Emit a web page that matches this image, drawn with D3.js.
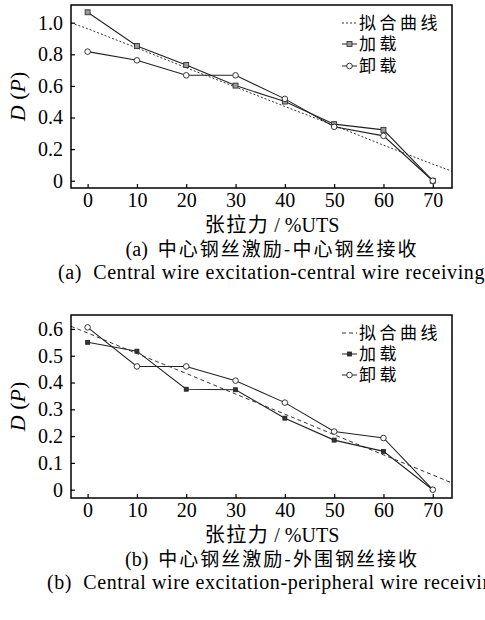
<!DOCTYPE html>
<html>
<head>
<meta charset="utf-8">
<script src="https://cdn.jsdelivr.net/npm/d3@7"></script>
<style>
  body { margin: 0; background: #fff; }
  .tick text { font-family: "Liberation Serif", "Times New Roman", serif; font-size: 20px; fill: #000; }
  .cjk { font-family: "Noto Sans CJK SC", sans-serif; }
  .serif { font-family: "Liberation Serif", "Times New Roman", serif; }
</style>
</head>
<body>
<script>
// shared x categories (tension, %UTS)
const tension = [0, 10, 20, 30, 40, 50, 60, 70];
const xTicks = [0, 10, 20, 30, 40, 50, 60, 70];

// panel (a)
const loadA = [1.066, 0.853, 0.733, 0.602, 0.501, 0.358, 0.322, 0.0];
const unloadA = [0.817, 0.762, 0.667, 0.667, 0.518, 0.341, 0.284, 0.0];
const fitXA = [-3.4, 0, 10, 20, 30, 40, 50, 60, 70, 73.9];
const fitYA = [1.0, 0.962, 0.84, 0.715, 0.593, 0.47, 0.35, 0.225, 0.105, 0.06];
const yTicksA = [0, 0.2, 0.4, 0.6, 0.8, 1.0];

// panel (b)
const loadB = [0.55, 0.517, 0.375, 0.373, 0.267, 0.185, 0.143, 0.0];
const unloadB = [0.606, 0.46, 0.46, 0.407, 0.325, 0.217, 0.193, 0.0];
const fitXB = [-3.4, 0, 10, 20, 30, 40, 50, 60, 70, 73.9];
const fitYB = [0.61, 0.585, 0.508, 0.434, 0.357, 0.282, 0.205, 0.13, 0.055, 0.025];
const yTicksB = [0, 0.1, 0.2, 0.3, 0.4, 0.5, 0.6];

const legendLabels = ["拟合曲线", "加载", "卸载"];
const xLabel = ["张拉力", " / %UTS"];
const captionsCN = ["(a)  中心钢丝激励-中心钢丝接收", "(b)  中心钢丝激励-外围钢丝接收"];
const captionsEN = ["(a)  Central wire excitation-central wire receiving",
                    "(b)  Central wire excitation-peripheral wire receiving"];

const W = 485, H = 620;
const svg = d3.select("body").append("svg").attr("width", W).attr("height", H);

function drawPanel(p) {
    const g = svg.append("g");
    const x = d3.scaleLinear().domain(p.xDomain).range([p.left, p.right]);
    const y = d3.scaleLinear().domain(p.yDomain).range([p.bottom, p.top]);

    g.append("defs").append("clipPath").attr("id", p.id + "-clip")
        .append("rect")
        .attr("x", p.left).attr("y", p.top)
        .attr("width", p.right - p.left).attr("height", p.bottom - p.top);

    // axes with inward ticks
    g.append("g")
        .attr("transform", `translate(0,${p.bottom})`)
        .call(d3.axisBottom(x).tickValues(xTicks).tickSizeInner(-4).tickSizeOuter(0).tickPadding(5))
        .call(a => a.select(".domain").remove())
        .call(a => a.selectAll("line").attr("stroke", "#000").attr("stroke-width", 1.2));

    g.append("g")
        .attr("transform", `translate(${p.left},0)`)
        .call(d3.axisLeft(y).tickValues(p.yTicks).tickSizeInner(-4).tickSizeOuter(0).tickPadding(8)
            .tickFormat(d => d === 0 ? "0" : d3.format(".1f")(d)))
        .call(a => a.select(".domain").remove())
        .call(a => a.selectAll("line").attr("stroke", "#000").attr("stroke-width", 1.2));

    const plot = g.append("g").attr("clip-path", `url(#${p.id}-clip)`);

    const fitLine = d3.line().x(d => x(d[0])).y(d => y(d[1]));
    plot.append("path")
        .datum(p.fitX.map((v, i) => [v, p.fitY[i]]))
        .attr("d", fitLine)
        .attr("fill", "none")
        .attr("stroke", "#333")
        .attr("stroke-width", 1)
        .attr("stroke-dasharray", p.dash);

    const line = d3.line().x((d, i) => x(tension[i])).y(d => y(d));
    plot.append("path").datum(p.load).attr("d", line)
        .attr("fill", "none").attr("stroke", "#222").attr("stroke-width", 1.1);
    plot.append("path").datum(p.unload).attr("d", line)
        .attr("fill", "none").attr("stroke", "#222").attr("stroke-width", 1.1);

    const sq = p.sq;
    plot.selectAll(".sq").data(p.load).enter().append("rect")
        .attr("x", (d, i) => x(tension[i]) - sq / 2)
        .attr("y", d => y(d) - sq / 2)
        .attr("width", sq).attr("height", sq)
        .attr("fill", p.sqFill).attr("stroke", "#222").attr("stroke-width", 0.8);

    plot.selectAll(".ci").data(p.unload).enter().append("circle")
        .attr("cx", (d, i) => x(tension[i]))
        .attr("cy", d => y(d))
        .attr("r", 2.8)
        .attr("fill", "#fff").attr("stroke", "#222").attr("stroke-width", 0.9);

    // frame
    g.append("rect")
        .attr("x", p.left).attr("y", p.top)
        .attr("width", p.right - p.left).attr("height", p.bottom - p.top)
        .attr("fill", "none").attr("stroke", "#000").attr("stroke-width", 1.5);

    // legend
    const lx0 = 342, lx1 = 357, tx = 359;
    const ly = p.legendY;
    g.append("line").attr("x1", lx0).attr("x2", lx1).attr("y1", ly[0]).attr("y2", ly[0])
        .attr("stroke", "#333").attr("stroke-dasharray", p.dash);
    g.append("line").attr("x1", lx0).attr("x2", lx1).attr("y1", ly[1]).attr("y2", ly[1])
        .attr("stroke", "#222");
    g.append("rect").attr("x", (lx0 + lx1) / 2 - sq / 2).attr("y", ly[1] - sq / 2)
        .attr("width", sq).attr("height", sq)
        .attr("fill", p.sqFill).attr("stroke", "#222").attr("stroke-width", 0.8);
    g.append("line").attr("x1", lx0).attr("x2", lx1).attr("y1", ly[2]).attr("y2", ly[2])
        .attr("stroke", "#222");
    g.append("circle").attr("cx", (lx0 + lx1) / 2).attr("cy", ly[2]).attr("r", 2.8)
        .attr("fill", "#fff").attr("stroke", "#222").attr("stroke-width", 0.9);

    g.selectAll(".leg").data(legendLabels).enter().append("text")
        .attr("class", "cjk")
        .attr("x", tx).attr("y", (d, i) => ly[i] + 6)
        .attr("font-size", 17).attr("letter-spacing", 3.5)
        .text(d => d);

    // y label D(P)
    const yl = g.append("text")
        .attr("class", "serif")
        .attr("font-size", 22)
        .attr("text-anchor", "middle")
        .attr("transform", `translate(25,${(p.top + p.bottom) / 2}) rotate(-90)`);
    yl.append("tspan").attr("font-style", "italic").text("D");
    yl.append("tspan").text(" (");
    yl.append("tspan").attr("font-style", "italic").text("P");
    yl.append("tspan").text(")");

    // x label
    const xl = g.append("text")
        .attr("x", 272).attr("y", p.bottom + 44)
        .attr("text-anchor", "middle").attr("font-size", 20);
    xl.append("tspan").attr("class", "cjk").attr("letter-spacing", 1.5).text(xLabel[0]);
    xl.append("tspan").attr("class", "serif").text(xLabel[1]);

    // captions
    const cn = g.append("text")
        .attr("x", 272).attr("y", p.bottom + 68)
        .attr("text-anchor", "middle").attr("font-size", 19);
    const parts = p.captionCN.split("  ");
    cn.append("tspan").attr("class", "serif").attr("font-size", 20).text(parts[0] + "\u00a0\u00a0");
    cn.append("tspan").attr("class", "cjk").attr("letter-spacing", 2).text(parts[1]);

    g.append("text")
        .attr("class", "serif")
        .attr("x", p.enX).attr("y", p.bottom + 91)
        .attr("font-size", 20)
        .attr("letter-spacing", 0.6)
        .style("white-space", "pre")
        .text(p.captionEN);
}

drawPanel({
    id: "pa", left: 71, right: 452, top: 5, bottom: 188,
    xDomain: [-3.37, 73.9], yDomain: [-0.046, 1.112],
    yTicks: yTicksA, load: loadA, unload: unloadA, fitX: fitXA, fitY: fitYA,
    dash: "2,2", sq: 5, sqFill: "#999",
    legendY: [23, 44, 66],
    captionCN: captionsCN[0], captionEN: captionsEN[0], enX: 58
});

drawPanel({
    id: "pb", left: 71, right: 452, top: 315, bottom: 498,
    xDomain: [-3.37, 73.9], yDomain: [-0.031, 0.652],
    yTicks: yTicksB, load: loadB, unload: unloadB, fitX: fitXB, fitY: fitYB,
    dash: "4,3", sq: 4, sqFill: "#333",
    legendY: [333, 354, 375],
    captionCN: captionsCN[1], captionEN: captionsEN[1], enX: 47
});
</script>
</body>
</html>
